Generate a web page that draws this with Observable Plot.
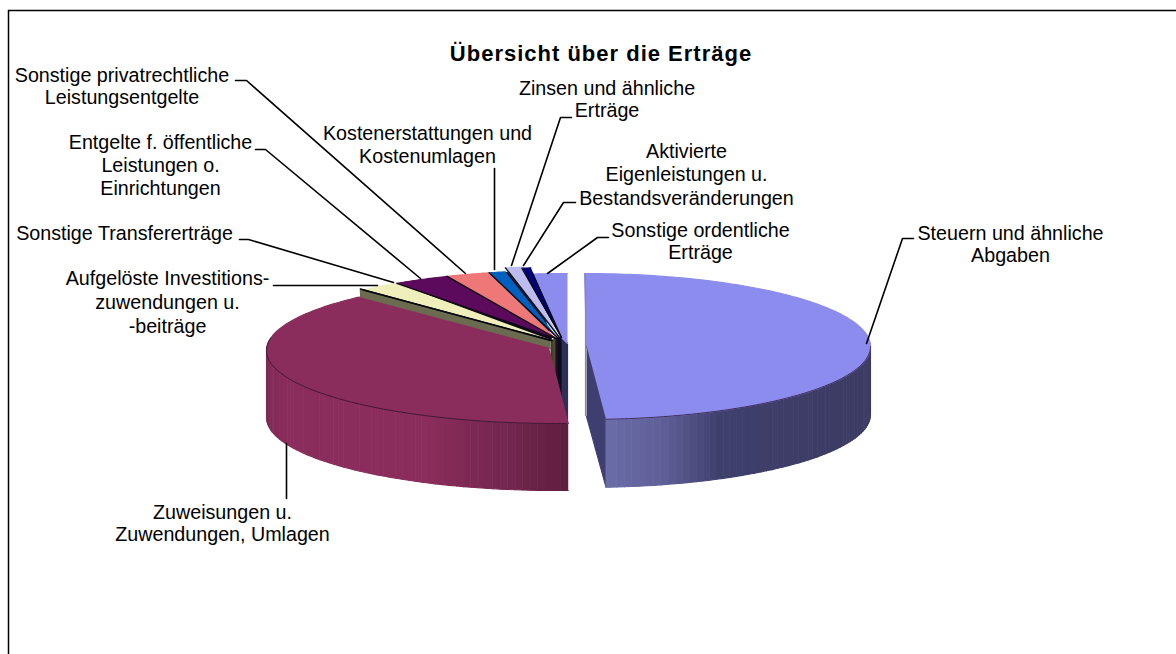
<!DOCTYPE html>
<html><head><meta charset="utf-8">
<style>html,body{margin:0;padding:0;background:#fff}svg{display:block}
g[font-weight="bold"] text{letter-spacing:1px}</style>
<script src="https://cdn.jsdelivr.net/npm/d3@7"></script>
<script src="https://cdn.jsdelivr.net/npm/@observablehq/plot@0.6"></script>
</head><body><div id="chart"></div>
<script>
// ---- data (percent shares) ----
const categories = ["Steuern und ähnliche Abgaben","Zuweisungen u. Zuwendungen, Umlagen","Aufgelöste Investitionszuwendungen u. -beiträge","Sonstige Transfererträge","Entgelte f. öffentliche Leistungen o. Einrichtungen","Sonstige privatrechtliche Leistungsentgelte","Kostenerstattungen und Kostenumlagen","Zinsen und ähnliche Erträge","Aktivierte Eigenleistungen u. Bestandsveränderungen","Sonstige ordentliche Erträge"];
const shares = [48.8,39.3,0.2,2.3,3.1,2.4,0.9,0.9,0.5,1.6];
const topColors = ["#8c8cee","#8b2d5c","#6b6b50","#efefbc","#5c0a5c","#ee7777","#0060c0","#bcbcee","#000078","#8c8cee"];
const cutColors = ["#3e3f70","#5f1f3f","#3a3a28","#4a4a30","#2a0630","#2a1018","#05101f","#0a0a1a","#05051a","#2c2f5a"];
// ---- layout of the 3D projection ----
const W = 1176, H = 654, depth = 68;
const base = {cx:560, cy:345.5, a:294, b:75.5};
const rims = [
  {cx:584, cy:346, a:286, b:73},
  {cx:556, cy:350, a:290, b:73, startShift:2},
  base, base, base, base, base,
  {...base, cy:341.5}, {...base, cy:342.5},
  {cx:567, cy:345.5, a:294, b:72.5, startShift:-1}
];
const apexes = [[586,345],[548,347],[550,340],[552,340],[555,338],[556,338],[557,337],[559,337],[561,337],[567,343]];
const oliveBand = 8;
const blueRamp = d3.scaleLinear().domain([606,660,720,870]).range(["#6a6ca8","#5f6098","#3f3f6c","#3b3b63"]).clamp(true);
const maroonRamp = d3.scaleLinear().domain([266,285,420,500,568]).range(["#7f2a55","#8b2d5c","#8b2d5c","#752750","#5f1f3f"]).clamp(true);
// ---- labels ----
const labelLines = [
 ["Sonstige privatrechtliche",121.5,75],["Leistungsentgelte",121.5,97],
 ["Entgelte f. öffentliche",160,142],["Leistungen o.",160,165],["Einrichtungen",160,188],
 ["Sonstige Transfererträge",124,233],
 ["Aufgelöste Investitions-",167,278],["zuwendungen u.",167,302],["-beiträge",167,326],
 ["Kostenerstattungen und",427,133],["Kostenumlagen",427,156],
 ["Zinsen und ähnliche",606.5,88],["Erträge",606.5,110],
 ["Aktivierte",686,151],["Eigenleistungen u.",686,174],["Bestandsveränderungen",686,198],
 ["Sonstige ordentliche",700,230],["Erträge",700,252],
 ["Steuern und ähnliche",1010,233],["Abgaben",1010,255],
 ["Zuweisungen u.",222,512],["Zuwendungen, Umlagen",222,534]
];
const leaderPaths = [
 [[235,80],[246,80],[465,273]],
 [[255,149],[265,149],[420,278]],
 [[239,239],[248,239],[393,282]],
 [[273,285],[377,285]],
 [[494,168],[494,269]],
 [[571,117],[560,117],[511,265]],
 [[575,202],[563,202],[523,265]],
 [[608,237],[597,237],[547,273]],
 [[913,238],[902,238],[866,343]],
 [[286,443],[286,498]]
];
// ---- geometry from the shares ----
const arcs = d3.pie().sort(null).value(d=>d)(shares);
const rimPt = (r,phi) => [r.cx + r.a*Math.sin(phi), r.cy - r.b*Math.cos(phi)];
const rad = d => d*Math.PI/180;
const polys = [];
let pid = 0;
const addPoly = (pts,color) => { const id = pid++; pts.forEach(([x,y])=>polys.push({x,y,id,color})); };
const rimRange = (r,a0,a1,step=rad(1)) => { const out=[]; for(let p=a0;p<a1;p+=step) out.push(rimPt(r,p)); out.push(rimPt(r,a1)); return out; };

// inner cut walls of the small wedges
for (let i=2;i<9;i++){
  const a=apexes[i], b=apexes[i+1];
  const xl=a[0], xr=Math.max(b[0],xl+1);
  addPoly([[xl,a[1]],[xr,b[1]],[xr,421],[xl,421]],cutColors[i]);
}
addPoly([[561,337],[567,343],[567,421],[561,421]],cutColors[9]);
// dark backing: closes slivers between the small wedges
addPoly([apexes[3],...rimRange({...base,a:293,b:74.5},arcs[3].startAngle,rad(354))],"#0a0a14");
// small wedge tops
const edgeRows=[];
for (let i=9;i>=3;i--){
  const r=rims[i], s=arcs[i].startAngle+rad(r.startShift||0), e=arcs[i].endAngle;
  const ap = i===9 ? [apexes[9],apexes[8]] : [apexes[i]];
  addPoly([...ap,...rimRange(r,s,e,rad(.5))],topColors[i]);
  [rimPt(r,s),ap[ap.length-1]].forEach(([x,y])=>edgeRows.push({x,y,id:i}));
}
// olive band: edge-on sliver under the pale wedge
{
  const s=arcs[2].startAngle,e=arcs[2].endAngle,p0=rimPt(base,e),p1=rimPt(base,s),ap=apexes[2];
  addPoly([ap,[p0[0]-3,p0[1]-1],[p1[0],p1[1]+oliveBand-1],[ap[0],ap[1]+oliveBand]],topColors[2]);
  edgeRows.push({x:p0[0]-3,y:p0[1]-1,id:2},{x:ap[0],y:ap[1],id:2});
}
// maroon wedge
{
  const r=rims[1], s=arcs[1].startAngle+rad(r.startShift), e=arcs[1].endAngle;
  const visEnd=rad(272);
  for(let p=s;p<visEnd;p+=rad(1.5)){
    const q=Math.min(p+rad(1.5),visEnd),A=rimPt(r,p),B=rimPt(r,q);
    addPoly([A,B,[B[0],B[1]+depth-1],[A[0],A[1]+depth-1]],maroonRamp((A[0]+B[0])/2));
  }
  addPoly([apexes[1],...rimRange(r,s,e)],topColors[1]);
}
// blue wedge
{
  const r=rims[0], s=arcs[0].startAngle, e=arcs[0].endAngle, end=rimPt(r,e), ap=apexes[0];
  addPoly([ap,end,[end[0],end[1]+depth],[ap[0],ap[1]+71]],cutColors[0]);
  for(let p=rad(88);p<e;p+=rad(1.5)){
    const q=Math.min(p+rad(1.5),e),A=rimPt(r,p),B=rimPt(r,q);
    addPoly([A,B,[B[0],B[1]+depth],[A[0],A[1]+depth]],blueRamp((A[0]+B[0])/2));
  }
  addPoly([ap,...rimRange(r,s,e)],topColors[0]);
}
// thin dark front rims
const rimLines=[];
rimRange(rims[1],rad(178),rad(280)).forEach(([x,y])=>rimLines.push({x,y,id:"m"}));
rimRange(rims[0],rad(90),arcs[0].endAngle).forEach(([x,y])=>rimLines.push({x,y,id:"b"}));
// grey back edge of the separated wedge
const greyEdge = [{x:585,y:273},{x:585,y:415}];

const leaders = leaderPaths.flatMap((p,i)=>p.map(([x,y])=>({x,y,id:i})));
const texts = labelLines.map(([text,x,y])=>({text,x,y}));
const font = "Liberation Sans, Arial, sans-serif";

const chart = Plot.plot({
  width:W, height:H, margin:0,
  x:{domain:[0,W],range:[0,W],axis:null},
  y:{domain:[0,H],range:[0,H],axis:null},
  color:{type:"identity"},
  marks:[
    Plot.line(polys,{x:"x",y:"y",z:"id",fill:"color",stroke:"color",strokeWidth:1.1,curve:"linear"}),
    Plot.line(greyEdge,{x:"x",y:"y",stroke:"#8a8a96",strokeWidth:1.2}),
    Plot.line(edgeRows,{x:"x",y:"y",z:"id",stroke:"#0a0a14",strokeWidth:1.3}),
    Plot.line(rimLines,{x:"x",y:"y",z:"id",stroke:"#2a1530",strokeWidth:1,strokeOpacity:0.8}),
    Plot.line(leaders,{x:"x",y:"y",z:"id",stroke:"#000",strokeWidth:1.6}),
    Plot.text(texts,{x:"x",y:"y",text:"text",fontSize:19.7,fontFamily:font,fill:"#000",textAnchor:"middle",lineAnchor:"middle"}),
    Plot.text(["Übersicht über die Erträge"],{x:600.5,y:53,fontSize:22,fontWeight:"bold",fontFamily:font,fill:"#000",textAnchor:"middle",lineAnchor:"middle"}),
    Plot.ruleY([10],{x1:8,x2:W,stroke:"#000",strokeWidth:1.5}),
    Plot.ruleX([8],{y1:10,y2:H,stroke:"#000",strokeWidth:1.5})
  ]
});
document.getElementById("chart").appendChild(chart);
</script></body></html>
